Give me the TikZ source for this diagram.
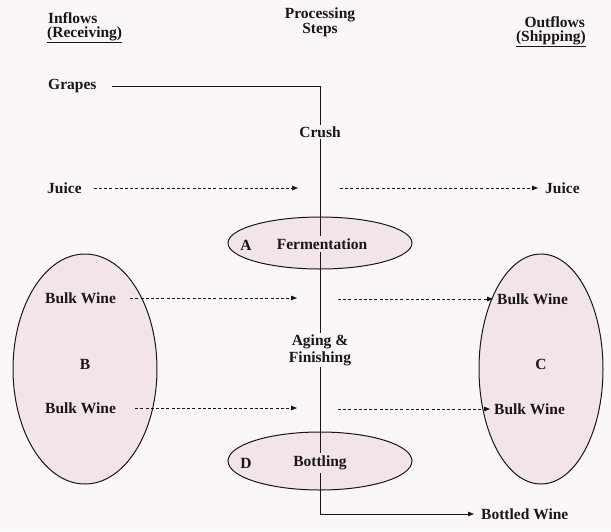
\documentclass[tikz,border=0pt]{standalone}
\usepackage{fontspec}
\setmainfont{Liberation Serif}
\usetikzlibrary{arrows.meta,shapes.geometric}
\definecolor{bgcol}{RGB}{251,246,247}
\definecolor{ellfill}{RGB}{243,228,234}
\definecolor{ink}{RGB}{25,22,24}
\begin{document}
\begin{tikzpicture}[x=1pt,y=-1pt,
  lbl/.style={font=\bfseries\fontsize{15.5}{17}\selectfont, inner sep=1pt, text=ink},
  ell/.style={ellipse, draw=ink, line width=1pt, fill=ellfill, inner sep=0pt},
  flow/.style={draw=ink, dash pattern=on 3pt off 2.2pt, line width=0.8pt, -{Triangle[length=6pt,width=4.5pt]}},
  main/.style={draw=ink, line width=0.8pt}]
\fill[bgcol] (0,0) rectangle (611,531);
\useasboundingbox (0,0) rectangle (611,531);
% ellipses
\node[ell, minimum width=144pt, minimum height=230pt] (Bell) at (85,369) {};
\node[ell, minimum width=124pt, minimum height=230pt] (Cell) at (541,369) {};
\node[ell, minimum width=184pt, minimum height=52pt] (Aell) at (320,243) {};
\node[ell, minimum width=184pt, minimum height=58pt] (Dell) at (320,461) {};
% headers
\node[lbl, anchor=west] (inflows) at (47,18) {Inflows};
\node[lbl, anchor=west] (recv) at (46,35) {\underline{(Receiving)}};
\node[lbl] (proc) at (320,15) {Processing};
\node[lbl] (steps) at (320,30) {Steps};
\node[lbl, anchor=east] (outflows) at (586,22) {Outflows};
\node[lbl, anchor=east] (ship) at (587,39) {\underline{(Shipping)}};
% labels
\node[lbl, anchor=west] (grapes) at (47,86) {Grapes};
\node[lbl] (crush) at (320,132) {Crush};
\node[lbl, anchor=west] (juiceL) at (46,188) {Juice};
\node[lbl, anchor=west] (juiceR) at (544,188) {Juice};
\node[lbl, anchor=west] (bw1L) at (44,298) {Bulk Wine};
\node[lbl, anchor=west] (bw1R) at (496,299) {Bulk Wine};
\node[lbl, anchor=west] (bw2L) at (44,408) {Bulk Wine};
\node[lbl, anchor=west] (bw2R) at (493,409) {Bulk Wine};
\node[lbl, align=center] (aging) at (320,350) {Aging \&\\Finishing};
\node[lbl, anchor=west] (bottled) at (480,514) {Bottled Wine};
\node[lbl] (Blab) at (85,364) {B};
\node[lbl] (Clab) at (541,364) {C};
% coordinates for free arrow ends
\coordinate (jLtip) at (298,188);
\coordinate (jRstart) at (340,188);
\coordinate (b1Ltip) at (297,298);
\coordinate (b1Rstart) at (338,299);
\coordinate (b2Ltip) at (297,408);
\coordinate (b2Rstart) at (338,409);
% main process line
\draw[main, shorten <=14pt] (grapes.east) -| (crush.north);
\draw[main] (crush.south) -- (aging.north);
\draw[main, -{Triangle[length=6pt,width=4.5pt]}, shorten >=6pt] (aging.south) |- (bottled.west);
% dashed flows
\draw[flow, shorten <=11pt] (juiceL.east) -- (jLtip);
\draw[flow, shorten >=6pt] (jRstart) -- (juiceR.west);
\draw[flow, shorten <=13pt] (bw1L.east) -- (b1Ltip);
\draw[flow, shorten >=3pt] (b1Rstart) -- (bw1R.west);
\draw[flow, shorten <=18pt] (bw2L.east) -- (b2Ltip);
\draw[flow, shorten >=3pt] (b2Rstart) -- (bw2R.west);
% ellipse labels on top of the line
\node[lbl, fill=ellfill] (Alab) at (246,245) {A};
\node[lbl, fill=ellfill, inner ysep=3pt] (ferm) at (322,244) {Fermentation};
\node[lbl, fill=ellfill] (Dlab) at (246,463) {D};
\node[lbl, fill=ellfill, inner ysep=3pt] (bott) at (320,463) {Bottling};
\end{tikzpicture}
\end{document}
